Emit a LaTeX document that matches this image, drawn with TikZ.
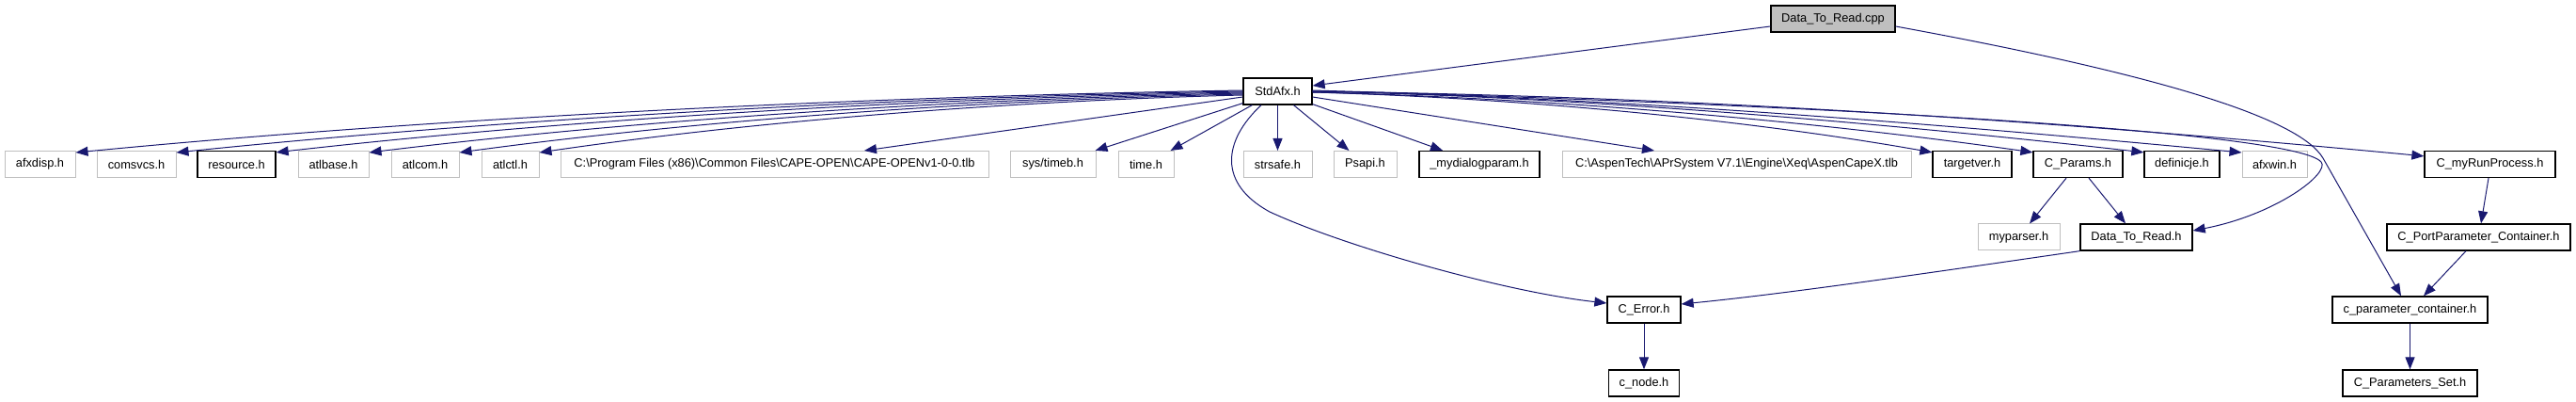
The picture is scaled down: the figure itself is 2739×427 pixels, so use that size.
\documentclass[tikz,border=0pt]{standalone}
\usepackage{fontspec}
\setmainfont{Liberation Sans}
\usetikzlibrary{arrows.meta}
\definecolor{edgeblue}{HTML}{191970}
\definecolor{nodegray}{HTML}{BFBFBF}
\tikzset{
  box/.style={draw, rectangle, minimum height=28pt, inner sep=0pt, fill=white,
    font=\fontsize{12.8}{15}\selectfont, line width=1pt},
  docbox/.style={box, draw=black, line width=1.3pt},
  undocbox/.style={box, draw=nodegray},
  curbox/.style={box, draw=black, fill=nodegray, line width=1.3pt},
  edge/.style={draw=edgeblue, line width=1pt, -{Triangle[length=13pt,width=10pt]}}
}
\begin{document}
\begin{tikzpicture}[x=1pt,y=-1pt]
\useasboundingbox[fill=white] (0,0) rectangle (2739,427);
% top
\node[curbox, minimum width=132pt] (dtrcpp) at (1949,20) {Data\_To\_Read.cpp};
\node[docbox, minimum width=73pt] (stdafx) at (1358.5,97) {StdAfx.h};
% row 1
\node[undocbox, minimum width=75pt] (afxdisp) at (42.5,174.5) {afxdisp.h};
\node[undocbox, minimum width=84pt] (comsvcs) at (145,174.5) {comsvcs.h};
\node[docbox, minimum width=83pt] (resource) at (251.5,174.5) {resource.h};
\node[undocbox, minimum width=75pt] (atlbase) at (354.5,174.5) {atlbase.h};
\node[undocbox, minimum width=72pt] (atlcom) at (452,174.5) {atlcom.h};
\node[undocbox, minimum width=61pt] (atlctl) at (542.5,174.5) {atlctl.h};
\node[undocbox, minimum width=455pt] (capeopen) at (823.5,174.5) {C:\textbackslash Program Files (x86)\textbackslash Common Files\textbackslash CAPE-OPEN\textbackslash CAPE-OPENv1-0-0.tlb};
\node[undocbox, minimum width=91pt] (timeb) at (1119.5,174.5) {sys/timeb.h};
\node[undocbox, minimum width=59pt] (timeh) at (1218.5,174.5) {time.h};
\node[undocbox, minimum width=73pt] (strsafe) at (1358.5,174.5) {strsafe.h};
\node[undocbox, minimum width=67pt] (psapi) at (1451.5,174.5) {Psapi.h};
\node[docbox, minimum width=128pt] (mydlg) at (1573,174.5) {\_mydialogparam.h};
\node[undocbox, minimum width=371pt] (aspen) at (1846.5,174.5) {C:\textbackslash AspenTech\textbackslash APrSystem V7.1\textbackslash Engine\textbackslash Xeq\textbackslash AspenCapeX.tlb};
\node[docbox, minimum width=84pt] (targetver) at (2097,174.5) {targetver.h};
\node[docbox, minimum width=95pt] (cparams) at (2209.5,174.5) {C\_Params.h};
\node[docbox, minimum width=80pt] (definicje) at (2320,174.5) {definicje.h};
\node[undocbox, minimum width=69pt] (afxwin) at (2418.5,174.5) {afxwin.h};
\node[docbox, minimum width=139pt] (runproc) at (2647.5,174.5) {C\_myRunProcess.h};
% row 2
\node[undocbox, minimum width=87pt] (myparser) at (2146.5,252) {myparser.h};
\node[docbox, minimum width=119pt] (dtrh) at (2271.5,252) {Data\_To\_Read.h};
\node[docbox, minimum width=195pt] (portparam) at (2635.5,252) {C\_PortParameter\_Container.h};
% row 3
\node[docbox, minimum width=78pt] (cerror) at (1748,329) {C\_Error.h};
\node[docbox, minimum width=165pt] (cparamcont) at (2562.5,329) {c\_parameter\_container.h};
% row 4
\node[docbox, minimum width=75pt] (cnode) at (1748,407) {c\_node.h};
\node[docbox, minimum width=143pt] (paramset) at (2562.5,407) {C\_Parameters\_Set.h};

% edges from Data_To_Read.cpp
\draw[edge] ([yshift=-8pt]dtrcpp.west) -- ([yshift=6pt]stdafx.east);
\draw[edge] ([yshift=-8pt]dtrcpp.east) .. controls (2300,80) and (2445,126) .. (2470,168) -- ([xshift=-9.5pt]cparamcont.north);

% StdAfx.h left bundle
\draw[edge] ([yshift=1pt]stdafx.west) .. controls +(-410,6.5) and +(373,-36) .. ([yshift=-2pt]afxdisp.north east);
\draw[edge] ([yshift=0pt]stdafx.west) .. controls +(-375,6) and +(340,-35) .. ([yshift=-2pt]comsvcs.north east);
\draw[edge] ([yshift=-1pt]stdafx.west) .. controls +(-340,6) and +(309,-35) .. ([yshift=-2pt]resource.north east);
\draw[edge] ([yshift=-2pt]stdafx.west) .. controls +(-307,6) and +(279,-34) .. ([yshift=-2pt]atlbase.north east);
\draw[edge] ([yshift=-3pt]stdafx.west) .. controls +(-275,6) and +(250,-34) .. ([yshift=-2pt]atlcom.north east);
\draw[edge] ([yshift=-4pt]stdafx.west) .. controls +(-247,6) and +(225,-33) .. ([yshift=-2pt]atlctl.north east);
\draw[edge] ([yshift=-6pt]stdafx.west) -- ([xshift=95.5pt]capeopen.north);
\draw[edge] ([yshift=2pt]stdafx.south west) -- ([xshift=-1pt]timeb.north east);
\draw[edge] ([xshift=10pt]stdafx.south west) -- ([xshift=-4pt]timeh.north east);
\draw[edge] (stdafx.south) -- (strsafe.north);
\draw[edge] ([xshift=17pt]stdafx.south) -- ([xshift=-17pt]psapi.north);
\draw[edge] ([yshift=1pt]stdafx.south east) -- ([xshift=-39pt]mydlg.north);
\draw[edge] ([yshift=-6pt]stdafx.east) -- ([xshift=-87.5pt]aspen.north);
% StdAfx.h right bundle
\draw[edge] ([yshift=-1pt]stdafx.east) .. controls +(218,6) and +(-198,-35) .. ([yshift=-2pt]targetver.north west);
\draw[edge] ([yshift=-1pt]stdafx.east) .. controls +(253,6) and +(-230,-33) .. ([yshift=-2pt]cparams.north west);
\draw[edge] (stdafx.east) .. controls +(292,6) and +(-265,-30) .. ([yshift=-2pt]definicje.north west);
\draw[edge] (stdafx.east) .. controls +(326,6) and +(-297,-28) .. ([yshift=-2pt]afxwin.north west);
\draw[edge] (stdafx.east) .. controls +(390,5) and +(-400,-38) .. ([yshift=-6pt]runproc.north west);
\draw[edge] ([yshift=1pt]stdafx.east) .. controls (1950,112) and (2440,140) .. (2468,172) .. controls (2478,184) and (2420,228) .. ([yshift=7pt]dtrh.east);
\draw[edge] ([xshift=-17.5pt]stdafx.south) .. controls (1300,150) and (1295,195) .. (1350,225) .. controls (1430,262) and (1600,310) .. ([yshift=7pt]cerror.west);

% lower edges
\draw[edge] ([xshift=-12.5pt]cparams.south) -- ([xshift=11.5pt]myparser.north);
\draw[edge] ([xshift=11.5pt]cparams.south) -- ([xshift=-11.5pt]dtrh.north);
\draw[edge] (dtrh.south west) .. controls (2050,290) and (1900,312) .. ([yshift=6pt]cerror.east);
\draw[edge] (cerror.south) -- (cnode.north);
\draw[edge] ([xshift=-1.5pt]runproc.south) -- ([xshift=2.5pt]portparam.north);
\draw[edge] ([xshift=-13.5pt]portparam.south) -- ([xshift=14.5pt]cparamcont.north);
\draw[edge] (cparamcont.south) -- (paramset.north);
\end{tikzpicture}
\end{document}
